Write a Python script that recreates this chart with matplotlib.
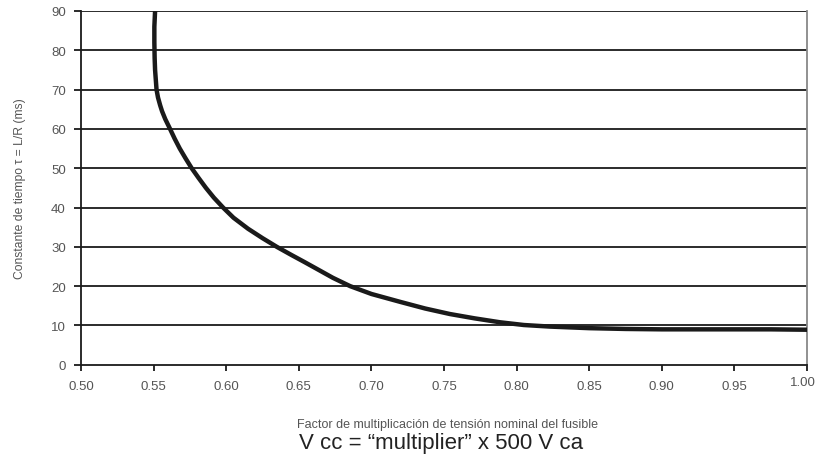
import matplotlib
matplotlib.use("Agg")
from matplotlib import pyplot as plt
from matplotlib.transforms import ScaledTranslation

# curve (multiplier vs time constant in ms)
multiplier = [0.551, 0.5505, 0.5505, 0.5507, 0.551, 0.5515, 0.552, 0.553, 0.5545,
              0.5558, 0.558, 0.5613, 0.5645, 0.568, 0.572, 0.5762, 0.581, 0.586,
              0.5915, 0.5978, 0.605, 0.615, 0.625, 0.6348, 0.645, 0.6535, 0.6623,
              0.6735, 0.6853, 0.70, 0.7197, 0.737, 0.754, 0.771, 0.7885, 0.805,
              0.823, 0.85, 0.875, 0.90, 0.925, 0.95, 0.975, 1.00]
tau_ms = [90, 86, 82, 78, 75, 72.5, 70, 68, 66, 64.5, 62.5, 60, 57.5, 55, 52.5,
          50, 47.5, 45, 42.5, 40, 37.4, 34.6, 32.2, 30, 27.9, 26.2, 24.4,
          22.1, 20, 18.0, 16.0, 14.3, 12.9, 11.8, 10.8, 10.1, 9.7, 9.3, 9.1,
          9.0, 9.0, 9.0, 9.0, 8.9]

x_ticks = [0.50, 0.55, 0.60, 0.65, 0.70, 0.75, 0.80, 0.85, 0.90, 0.95, 1.00]
y_ticks = [0, 10, 20, 30, 40, 50, 60, 70, 80, 90]

plt.rcParams['font.family'] = ['Liberation Sans', 'DejaVu Sans']
grey = '#555555'

fig = plt.figure(figsize=(8.16, 4.56), dpi=100)
ax = fig.add_axes([0.0993, 0.198, 0.8897, 0.7757])

for v in y_ticks[1:]:
    ax.axhline(v, color='#1a1a1a', lw=1.3, zorder=1)

ax.plot(multiplier, tau_ms, color='#1a1a1a', lw=3.2, solid_joinstyle='round',
        solid_capstyle='butt', zorder=3)

ax.set_xlim(0.50, 1.00)
ax.set_ylim(0, 90)
ax.set_xticks(x_ticks)
ax.set_xticklabels([f"{t:.2f}" for t in x_ticks])
ax.set_yticks(y_ticks)

ax.spines['top'].set_visible(False)
ax.spines['right'].set_color('#888888')
ax.spines['right'].set_linewidth(1.3)
for s in ['left', 'bottom']:
    ax.spines[s].set_color('#1a1a1a')
    ax.spines[s].set_linewidth(1.3)

ax.tick_params(axis='x', length=4, width=1.3, pad=7, labelsize=9.5, labelcolor=grey, color='#1a1a1a')
ax.tick_params(axis='y', length=5, width=1.3, pad=6, labelsize=9.5, labelcolor=grey, color='#1a1a1a')

# last x label sits a bit higher and hugs the right edge, as in the original
last = ax.get_xticklabels()[-1]
last.set_ha('right')
last.set_transform(last.get_transform() + ScaledTranslation(6 / 72, 3 / 72, fig.dpi_scale_trans))

ax.set_ylabel("Constante de tiempo τ = L/R (ms)", fontsize=8.7, color=grey, labelpad=18)
fig.text(0.549, 0.068, "Factor de multiplicación de tensión nominal del fusible",
         ha='center', va='center', fontsize=9, color=grey)
fig.text(0.541, 0.028, "V cc = “multiplier” x 500 V ca",
         ha='center', va='center', fontsize=16, color='#222222')

fig.savefig("out.png", dpi=100)
